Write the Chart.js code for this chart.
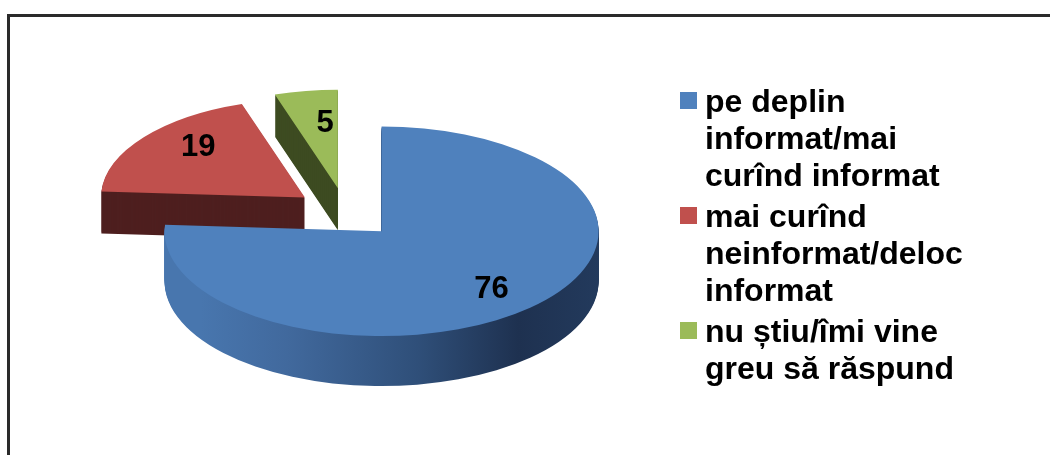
<!DOCTYPE html>
<html><head><meta charset="utf-8">
<script src="https://cdn.jsdelivr.net/npm/chart.js"></script>
<style>
html,body{margin:0;padding:0;background:#fff;width:1050px;height:455px;overflow:hidden;}
#frame{position:absolute;left:7px;top:14px;width:1100px;height:500px;border-left:3px solid #2a2a2a;border-top:3px solid #2a2a2a;}
#wrap{position:absolute;left:0;top:0;width:1050px;height:455px;}
#legend{position:absolute;left:680px;top:83px;font-family:"Liberation Sans",Arial,sans-serif;font-weight:bold;font-size:32px;line-height:37px;color:#000;white-space:nowrap;}
.item{position:relative;padding-left:25px;margin-bottom:4px;}
.box{position:absolute;left:0;top:9px;width:17px;height:17px;}
</style></head>
<body>
<div id="frame"></div>
<div id="wrap"><canvas id="c" width="1050" height="455"></canvas></div>
<div id="legend"></div>
<script>
const categories = [
  ["pe deplin", "informat/mai", "curînd informat"],
  ["mai curînd", "neinformat/deloc", "informat"],
  ["nu știu/îmi vine", "greu să răspund"]
];
const values = [76, 19, 5];
const valueLabels = ["76", "19", "5"];
const colors = ["#4F81BD", "#C0504D", "#9BBB59"];
const sideColors = [null, "#4e1f1f", "#3d4b21"];

// 3D look settings
const K = 0.483;              // vertical squash of the pie
const EXPLODE = 52;           // explosion distance
const DEPTH = [50, 42, 42];   // side thickness per slice
const PERSP = [1, 0.94, 0.94];// back slices look a bit smaller
const LABEL_F = [0.74, 0.70, 0.64];
const LABEL_DA = [0, 5.8, 2.7];

const pie3d = {
  id: 'pie3d',
  beforeDatasetDraw(chart, args) {
    const ctx = chart.ctx;
    const arcs = args.meta.data;
    const cx = arcs[0].x, cy = arcs[0].y;
    const R = arcs[0].outerRadius;
    const grad = ctx.createLinearGradient(165, 0, 600, 0);
    grad.addColorStop(0, '#4876ae');
    grad.addColorStop(0.2, '#41699d');
    grad.addColorStop(0.5, '#2f4f79');
    grad.addColorStop(0.73, '#1e3150');
    grad.addColorStop(1, '#253e62');
    const sides = [grad, sideColors[1], sideColors[2]];
    const place = (i, t) => {
      const a = arcs[i];
      const mid = (a.startAngle + a.endAngle) / 2;
      ctx.translate(0, t);
      ctx.translate(cx, cy);
      ctx.scale(1, K);
      ctx.translate(-cx, -cy);
      ctx.translate(Math.cos(mid) * EXPLODE, Math.sin(mid) * EXPLODE);
    };
    const mk = (i, bg) => {
      const a = arcs[i];
      const p = Object.create(a);
      p.outerRadius = a.outerRadius * PERSP[i];
      p.options = Object.assign({}, a.options, {backgroundColor: bg, borderWidth: 0});
      return p;
    };
    for (const i of [2, 1, 0]) {
      const p = mk(i, sides[i]);
      for (let t = DEPTH[i]; t >= 1; t--) {
        ctx.save(); place(i, t); arcs[i].draw.call(p, ctx); ctx.restore();
      }
    }
    for (const i of [0, 1, 2]) {
      const p = mk(i, colors[i]);
      ctx.save(); place(i, 0); arcs[i].draw.call(p, ctx); ctx.restore();
    }
    ctx.save();
    ctx.fillStyle = '#000';
    ctx.font = "bold 31px 'Liberation Sans', Arial, sans-serif";
    ctx.textAlign = 'center';
    ctx.textBaseline = 'middle';
    arcs.forEach((a, i) => {
      const ang = (a.startAngle + a.endAngle) / 2 + LABEL_DA[i] * Math.PI / 180;
      const d = EXPLODE + LABEL_F[i] * R;
      ctx.fillText(valueLabels[i], cx + Math.cos(ang) * d, cy + Math.sin(ang) * d * K + 2);
    });
    ctx.restore();
    return false;
  }
};

new Chart(document.getElementById('c'), {
  type: 'pie',
  data: {
    labels: categories,
    datasets: [{data: values, backgroundColor: colors, borderWidth: 0, clip: false}]
  },
  options: {
    responsive: false,
    animation: false,
    devicePixelRatio: 1,
    radius: 217,
    rotation: 0,
    layout: {padding: {left: 0, right: 358, top: 0, bottom: 29}},
    plugins: {legend: {display: false}, tooltip: {enabled: false}}
  },
  plugins: [pie3d]
});

const leg = document.getElementById('legend');
categories.forEach((lines, i) => {
  const it = document.createElement('div');
  it.className = 'item';
  const b = document.createElement('span');
  b.className = 'box';
  b.style.background = colors[i];
  it.appendChild(b);
  lines.forEach((l, j) => {
    if (j) it.appendChild(document.createElement('br'));
    it.appendChild(document.createTextNode(l));
  });
  leg.appendChild(it);
});
</script>
</body></html>
